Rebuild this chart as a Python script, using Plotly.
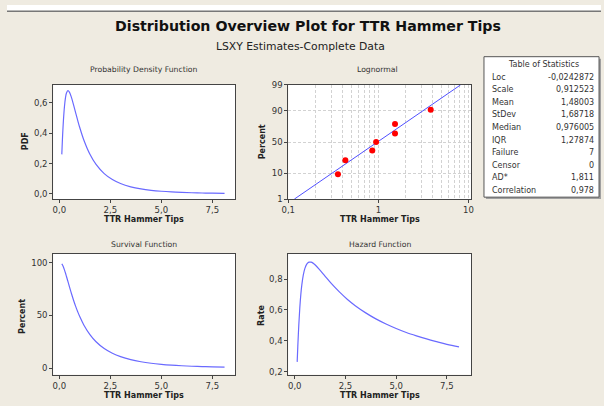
import plotly.graph_objects as go
from statistics import NormalDist

# ---------------- data ----------------
ttr_x = [0.12, 0.15, 0.2, 0.25, 0.3, 0.35, 0.42, 0.5, 0.6, 0.7, 0.8, 0.9, 1.0, 1.2, 1.5,
         1.8, 2.2, 2.6, 3.0, 3.5, 4.0, 4.5, 5.0, 5.5, 6.0, 6.5, 7.0, 7.5, 8.1]
pdf_vals = [0.2605, 0.3548, 0.4835, 0.5741, 0.6318, 0.6643, 0.6792, 0.6684, 0.6321, 0.5845,
            0.5337, 0.4838, 0.4370, 0.3551, 0.2609, 0.1940, 0.1337, 0.0945, 0.0684, 0.0469,
            0.0331, 0.0239, 0.0176, 0.0132, 0.0101, 0.0078, 0.0061, 0.0048, 0.0037]
survival_pct = [98.92, 97.99, 95.88, 93.22, 90.20, 86.95, 82.23, 76.82, 70.31, 64.22,
                58.63, 53.54, 48.94, 41.04, 31.88, 25.12, 18.65, 14.15, 10.93, 8.08,
                6.11, 4.70, 3.67, 2.91, 2.33, 1.89, 1.54, 1.27, 1.02]
hazard_rate = [0.263, 0.362, 0.504, 0.616, 0.701, 0.764, 0.826, 0.870, 0.899, 0.910,
               0.910, 0.904, 0.893, 0.865, 0.818, 0.772, 0.717, 0.668, 0.626, 0.581,
               0.542, 0.509, 0.480, 0.454, 0.432, 0.412, 0.394, 0.377, 0.360]

# probability plot points and fit line
prob_x = [0.356, 0.430, 0.856, 0.944, 1.53, 1.53, 3.81]
prob_pct = [9.46, 22.97, 36.49, 50.0, 63.51, 77.03, 90.54]
fit_x = [0.1168, 8.15]
fit_pct = [1, 99]
pct_ticks = [1, 10, 50, 90, 99]

stat_labels = ["Loc", "Scale", "Mean", "StDev", "Median", "IQR", "Failure", "Censor",
               "AD*", "Correlation"]
stat_values = ["-0,0242872", "0,912523", "1,48003", "1,68718", "0,976005", "1,27874",
               "7", "0", "1,811", "0,978"]

# ---------------- layout helpers ----------------
W, H = 604, 406
BG = "#EFEBE1"
FONT = "DejaVu Sans"
TXT = "#333333"
CURVE = "#6A6AFF"

def px(x):
    return x / W

def py(y):
    return 1 - y / H

nd = NormalDist()
def z(p):
    return nd.inv_cdf(p / 100.0)

fig = go.Figure()

fig.add_trace(go.Scatter(x=ttr_x, y=pdf_vals, mode="lines", line=dict(color=CURVE, width=1.2, shape="spline"),
                         xaxis="x", yaxis="y", showlegend=False))
fig.add_trace(go.Scatter(x=fit_x, y=[z(p) for p in fit_pct], mode="lines",
                         line=dict(color="#5050FF", width=1), xaxis="x2", yaxis="y2", showlegend=False))
fig.add_trace(go.Scatter(x=prob_x, y=[z(p) for p in prob_pct], mode="markers",
                         marker=dict(color="#FF0000", size=6), xaxis="x2", yaxis="y2", showlegend=False))
fig.add_trace(go.Scatter(x=ttr_x, y=survival_pct, mode="lines", line=dict(color=CURVE, width=1.2, shape="spline"),
                         xaxis="x3", yaxis="y3", showlegend=False))
fig.add_trace(go.Scatter(x=ttr_x, y=hazard_rate, mode="lines", line=dict(color=CURVE, width=1.2, shape="spline"),
                         xaxis="x4", yaxis="y4", showlegend=False))

common = dict(showline=True, mirror=True, linecolor="#444444", linewidth=1, ticks="outside",
              ticklen=3, tickcolor="#444444", tickfont=dict(family=FONT, size=8.5, color=TXT),
              showgrid=False, zeroline=False)

left_dom = [px(47), px(232)]
right_dom = [px(286), px(472)]
top_dom = [py(199), py(82)]
bot_dom = [py(379), py(255)]

grid_col = "#D2D2D2"
gdash = "3px,2px"

fig.update_layout(
    width=W, height=H, margin=dict(l=0, r=0, t=0, b=0),
    paper_bgcolor=BG, plot_bgcolor="white", separators=",.",
    xaxis=dict(domain=left_dom, anchor="y", range=[-0.3, 8.62], tickvals=[0, 2.5, 5, 7.5],
               tickformat=".1f", **common),
    yaxis=dict(domain=top_dom, anchor="x", range=[-0.034, 0.717], tickvals=[0, 0.2, 0.4, 0.6],
               tickformat=".1f", **common),
    xaxis2=dict(domain=right_dom, anchor="y2", type="log", range=[-1, 1.03], dtick=1,
                minor=dict(dtick="D1", showgrid=True, griddash=gdash, gridcolor=grid_col,
                           gridwidth=1, ticks=""),
                **{**common, "showgrid": True, "griddash": gdash, "gridcolor": grid_col}),
    yaxis2=dict(domain=top_dom, anchor="x2", range=[z(1), z(99)],
                tickvals=[z(p) for p in pct_ticks], ticktext=[str(p) for p in pct_ticks],
                **{**common, "showgrid": True, "griddash": gdash, "gridcolor": grid_col}),
    xaxis3=dict(domain=left_dom, anchor="y3", range=[-0.3, 8.62], tickvals=[0, 2.5, 5, 7.5],
                tickformat=".1f", **common),
    yaxis3=dict(domain=bot_dom, anchor="x3", range=[-6.1, 108.5], tickvals=[0, 50, 100], **common),
    xaxis4=dict(domain=right_dom, anchor="y4", range=[-0.32, 8.7], tickvals=[0, 2.5, 5, 7.5],
                tickformat=".1f", **common),
    yaxis4=dict(domain=bot_dom, anchor="x4", range=[0.18, 0.965], tickvals=[0.2, 0.4, 0.6, 0.8],
                tickformat=".1f", **common),
)

shapes = [
    dict(type="rect", xref="paper", yref="paper", x0=0, x1=1, y0=py(6), y1=1,
         fillcolor="white", line=dict(width=0), layer="below"),
    dict(type="line", xref="paper", yref="paper", x0=0, x1=1, y0=py(6.5), y1=py(6.5),
         line=dict(color="#777777", width=1.5)),
    dict(type="rect", xref="paper", yref="paper", x0=px(487), x1=px(604), y0=py(199), y1=py(55),
         fillcolor="#A0A0A0", line=dict(width=0)),
    dict(type="rect", xref="paper", yref="paper", x0=px(485), x1=px(602), y0=py(197), y1=py(53),
         fillcolor="white", line=dict(color="#555555", width=1)),
]
fig.update_layout(shapes=shapes)

ann = []
def text(x, y, s, size=9, bold=False, xanchor="center", angle=0, color=TXT):
    ann.append(dict(xref="paper", yref="paper", x=px(x), y=py(y), text=("<b>%s</b>" % s) if bold else s,
                    showarrow=False, xanchor=xanchor, yanchor="middle", textangle=angle,
                    font=dict(family=FONT, size=size, color=color)))

text(306, 22, "Distribution Overview Plot for TTR Hammer Tips", size=14.2, bold=True, color="#111111")
text(298, 43, "LSXY Estimates-Complete Data", size=10.8, color="#222222")

text(139.5, 66, "Probability Density Function", size=7.7)
text(377, 66, "Lognormal", size=7.7)
text(139.5, 246, "Survival Function", size=7.7)
text(379, 246, "Hazard Function", size=7.7)

text(139.5, 220, "TTR Hammer Tips", size=8, bold=True, color="#222222")
text(379, 220, "TTR Hammer Tips", size=8, bold=True, color="#222222")
text(139.5, 400, "TTR Hammer Tips", size=8, bold=True, color="#222222")
text(379, 400, "TTR Hammer Tips", size=8, bold=True, color="#222222")

text(19, 140, "PDF", size=8, bold=True, angle=-90, color="#222222")
text(260, 140, "Percent", size=8, bold=True, angle=-90, color="#222222")
text(15, 319, "Percent", size=8, bold=True, angle=-90, color="#222222")
text(258, 318, "Rate", size=8, bold=True, angle=-90, color="#222222")

text(546, 61, "Table of Statistics", size=8)
row_y0, row_dy = 74, 12.9
for i, (lab, val) in enumerate(zip(stat_labels, stat_values)):
    yy = row_y0 + i * row_dy
    text(491, yy, lab, size=8, xanchor="left")
    text(599, yy, val, size=8, xanchor="right")

fig.update_layout(annotations=ann)

fig.write_html("out.html", config={"displayModeBar": False},
               post_script="document.body.style.margin='0';document.body.style.padding='0';")
